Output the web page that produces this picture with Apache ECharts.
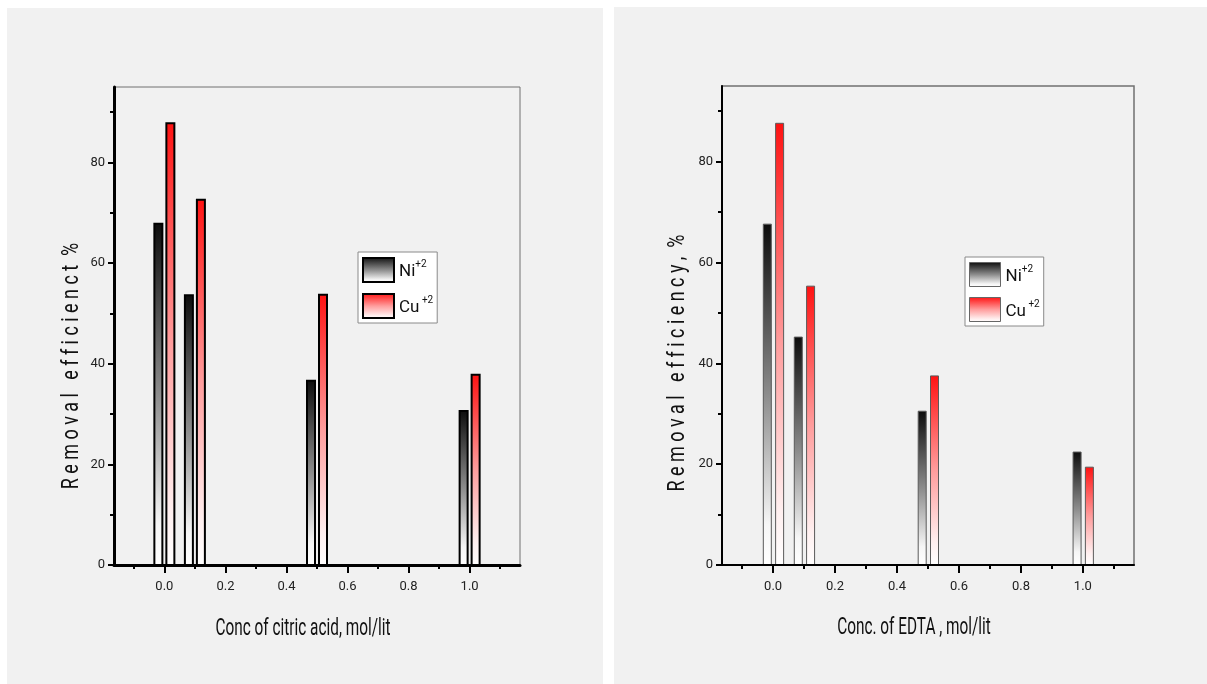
<!DOCTYPE html>
<html>
<head>
<meta charset="utf-8">
<script src="https://cdn.jsdelivr.net/npm/echarts@6/dist/echarts.min.js"></script>
<style>
  html, body { margin: 0; padding: 0; background: #ffffff; }
  #chart { width: 1207px; height: 684px; }
</style>
</head>
<body>
<div id="chart"></div>
<script>
// Concentrations (mol/lit) shared by both panels
const concentrations = [0.0, 0.1, 0.5, 1.0];

// Removal efficiency (%) with citric acid
const citricNi = [67.8, 53.6, 36.6, 30.6];
const citricCu = [87.8, 72.6, 53.7, 37.8];

// Removal efficiency (%) with EDTA
const edtaNi = [67.6, 45.2, 30.5, 22.4];
const edtaCu = [87.6, 55.3, 37.5, 19.4];

// Axis ticks
const xMajorTicks = [0.0, 0.2, 0.4, 0.6, 0.8, 1.0];
const xMinorTicks = [-0.1, 0.1, 0.3, 0.5, 0.7, 0.9, 1.1];
const yMajorTicks = [0, 20, 40, 60, 80];
const yMinorTicks = [10, 30, 50, 70, 90];

const FONT = 'Roboto, "Noto Sans", sans-serif';

function grad(stops) {
  return { type: 'linear', x: 0, y: 0, x2: 0, y2: 1, global: false,
    colorStops: stops.map(s => ({ offset: s[0], color: s[1] })) };
}
const niFill = () => grad([[0, '#0c0c0c'], [0.5, '#8c8c8c'], [0.88, '#f6f6f6'], [1, '#ffffff']]);
const cuFill = () => grad([[0, '#ff1212'], [0.5, '#ff9d9d'], [0.88, '#fff0f0'], [1, '#ffffff']]);

function pairData(xs, ys) { return xs.map((x, i) => [x, ys[i]]); }

// Bar drawn beside its concentration: side -1 left of it, +1 right of it
function barSeries(name, gridIdx, xs, ys, side, fillFn, stroke, lw, w, gap) {
  return {
    name: name,
    type: 'custom',
    xAxisIndex: gridIdx * 2,
    yAxisIndex: gridIdx * 2,
    itemStyle: { color: fillFn(), borderColor: stroke, borderWidth: lw },
    data: pairData(xs, ys),
    z: 2,
    renderItem: function (params, api) {
      const base = api.coord([api.value(0), 0]);
      const top = api.coord([api.value(0), api.value(1)]);
      const x0 = side < 0 ? base[0] - gap - w : base[0] + gap;
      return {
        type: 'rect',
        shape: { x: x0, y: top[1], width: w, height: base[1] - top[1] },
        style: { fill: fillFn(), stroke: stroke, lineWidth: lw }
      };
    }
  };
}

function xAxes(gridIdx, lineW) {
  return [
    {
      gridIndex: gridIdx, type: 'value', position: 'bottom', min: -0.165, max: 1.165, z: 5,
      axisLine: { show: true, onZero: false, lineStyle: { color: '#000', width: lineW } },
      axisTick: { show: true, inside: false, length: 8, customValues: xMajorTicks,
        lineStyle: { color: '#000', width: 2 } },
      axisLabel: { show: true, customValues: xMajorTicks, margin: 15,
        formatter: v => v.toFixed(1), fontFamily: FONT, fontSize: 13, color: '#222' },
      splitLine: { show: false }
    },
    {
      gridIndex: gridIdx, type: 'value', position: 'bottom', min: -0.165, max: 1.165, z: 5,
      axisLine: { show: false, onZero: false },
      axisTick: { show: true, inside: false, length: 4, customValues: xMinorTicks,
        lineStyle: { color: '#000', width: 2 } },
      axisLabel: { show: false, customValues: xMinorTicks },
      splitLine: { show: false }
    }
  ];
}

function yAxes(gridIdx, lineW) {
  return [
    {
      gridIndex: gridIdx, type: 'value', position: 'left', min: 0, max: 95, z: 5,
      axisLine: { show: true, onZero: false, lineStyle: { color: '#000', width: lineW } },
      axisTick: { show: true, inside: false, length: 6, customValues: yMajorTicks,
        lineStyle: { color: '#000', width: 2 } },
      axisLabel: { show: true, customValues: yMajorTicks, margin: 9,
        fontFamily: FONT, fontSize: 13, color: '#222' },
      splitLine: { show: false }
    },
    {
      gridIndex: gridIdx, type: 'value', position: 'left', min: 0, max: 95, z: 5,
      axisLine: { show: false, onZero: false },
      axisTick: { show: true, inside: false, length: 4, customValues: yMinorTicks,
        lineStyle: { color: '#000', width: 2 } },
      axisLabel: { show: false, customValues: yMinorTicks },
      splitLine: { show: false }
    }
  ];
}

function legendFor(left, top, stroke, lw) {
  return {
    left: left, top: top, orient: 'vertical', icon: 'rect',
    itemWidth: 31, itemHeight: 24, itemGap: 10,
    padding: [5, 4, 4, 4],
    backgroundColor: '#ffffff', borderColor: '#8a8a8a', borderWidth: 1,
    selectedMode: false,
    data: [
      { name: 'Ni', itemStyle: { color: niFill(), borderColor: stroke, borderWidth: lw } },
      { name: 'Cu', itemStyle: { color: cuFill(), borderColor: stroke, borderWidth: lw } }
    ],
    formatter: name => name === 'Ni' ? '{m|Ni}{s|+2}' : '{m|Cu}{s| +2}',
    textStyle: {
      rich: {
        m: { fontFamily: FONT, fontSize: 17, color: '#111', padding: [4, 0, 0, 0] },
        s: { fontFamily: FONT, fontSize: 10, color: '#111', verticalAlign: 'top' }
      }
    }
  };
}

// Axis titles, set in a condensed face by squeezing along the text direction
function titleText(x, y, text, rotate, size, squeeze) {
  return {
    type: 'text', x: x, y: y, rotation: rotate ? Math.PI / 2 : 0, z: 10,
    scaleX: squeeze, scaleY: 1,
    style: { text: text, font: size + 'px ' + FONT, fill: '#111',
      align: 'center', verticalAlign: 'middle' }
  };
}

const chart = echarts.init(document.getElementById('chart'), null, { renderer: 'canvas' });

chart.setOption({
  backgroundColor: '#ffffff',
  animation: false,
  graphic: [
    { type: 'rect', shape: { x: 7, y: 8, width: 596, height: 676 }, style: { fill: '#f1f1f1' }, z: -10 },
    { type: 'rect', shape: { x: 614, y: 7, width: 593, height: 677 }, style: { fill: '#f1f1f1' }, z: -10 },
    titleText(72, 366, 'R e m o v a l   e f f i c i e n c t  %', true, 23, 0.78),
    titleText(303, 629, 'Conc of citric acid, mol/lit', false, 24, 0.64),
    titleText(678, 363, 'R e m o v a l   e f f i c i e n c y ,  %', true, 23, 0.78),
    titleText(914, 628, 'Conc. of EDTA , mol/lit', false, 24, 0.64)
  ],
  grid: [
    { left: 114, top: 87, right: 687, bottom: 119, show: true,
      backgroundColor: 'transparent', borderColor: '#707070', borderWidth: 1 },
    { left: 722, top: 86, right: 73, bottom: 119, show: true,
      backgroundColor: 'transparent', borderColor: '#707070', borderWidth: 1.5 }
  ],
  legend: [
    legendFor(358, 252, '#000', 2),
    legendFor(965, 257, '#666', 1)
  ],
  xAxis: [...xAxes(0, 3), ...xAxes(1, 2)],
  yAxis: [...yAxes(0, 3), ...yAxes(1, 2)],
  series: [
    barSeries('Ni', 0, concentrations, citricNi, -1, niFill, '#000', 2, 8, 2),
    barSeries('Cu', 0, concentrations, citricCu, 1, cuFill, '#000', 2, 8, 2),
    barSeries('Ni', 1, concentrations, edtaNi, -1, niFill, '#5a5a5a', 1, 8, 1.8),
    barSeries('Cu', 1, concentrations, edtaCu, 1, cuFill, '#5a5a5a', 1, 8, 2.5)
  ]
});
</script>
</body>
</html>
